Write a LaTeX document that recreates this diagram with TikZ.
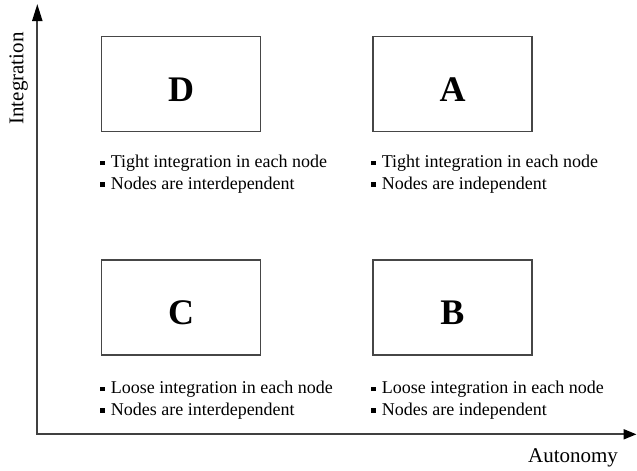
\documentclass[tikz,border=0pt]{standalone}
\usepackage{fontspec}
\setmainfont{Liberation Serif}
\usetikzlibrary{arrows.meta, positioning}

% small square bullet for the notes
\newcommand{\sqbul}{\raisebox{2.5pt}{\rule{4.6pt}{4.6pt}}\hspace{6pt}}

\begin{document}
\begin{tikzpicture}[x=1pt, y=-1pt,
      quad/.style={draw=gray!55!black, line width=1.3pt, minimum width=159pt,
                   minimum height=95pt, inner sep=0pt, text height=34pt, text depth=0pt,
                   font=\fontsize{36}{36}\selectfont\bfseries},
      note/.style={font=\fontsize{18}{21.5}\selectfont, align=left,
                   anchor=north west, inner sep=0pt},
      axis/.style={draw=black!75, line width=2pt,
                   {Triangle[length=17pt, width=10pt, color=black]}-{Triangle[length=13pt, width=10pt, color=black]}},
      axlbl/.style={font=\fontsize{21}{21}\selectfont, anchor=base}]

    \useasboundingbox (0,0) rectangle (637,471);

    % Column / row centres of the four quadrants
    \def\cxL{181.2}
    \def\cxR{452.5}
    \def\cyT{84.3}
    \def\cyB{307.5}

    % Axes
    \coordinate (origin) at (37.3, 434.3);
    \coordinate (ytip)   at (37.3, 4);
    \coordinate (xtip)   at (636.5, 434.3);
    \draw[axis] (ytip) -- (origin) -- (xtip);
    \node[axlbl, rotate=90] (ylbl) at (23.3, 78.5) {Integration};
    \node[axlbl] (xlbl) at (573, 462) {Autonomy};

    % Quadrant boxes
    \node[quad] (boxD) at (\cxL, \cyT) {D};
    \node[quad] (boxA) at (\cxR, \cyT) {A};
    \node[quad] (boxC) at (\cxL, \cyB) {C};
    \node[quad] (boxB) at (\cxR, \cyB) {B};

    % Notes under each box
    \node[note] (noteD) at (100, 155) {\sqbul Tight integration in each node\\ \sqbul Nodes are interdependent};
    \node[note] (noteA) at (371, 155) {\sqbul Tight integration in each node\\ \sqbul Nodes are independent};
    \node[note] (noteC) at (100, 381) {\sqbul Loose integration in each node\\ \sqbul Nodes are interdependent};
    \node[note] (noteB) at (371, 381) {\sqbul Loose integration in each node\\ \sqbul Nodes are independent};

\end{tikzpicture}
\end{document}
